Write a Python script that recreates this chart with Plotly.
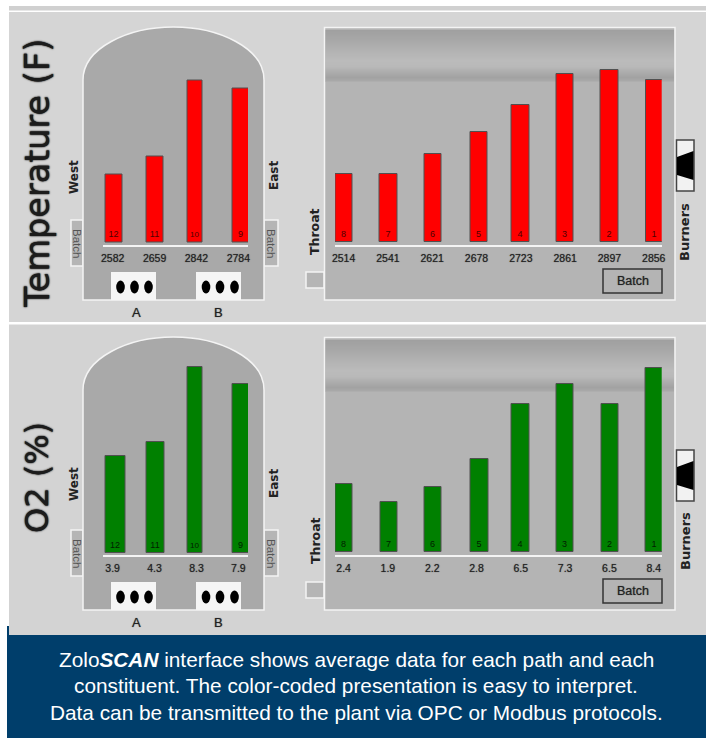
import plotly.graph_objects as go

# ---- data ----
west_burners = ["12", "11", "10", "9"]
side_burners = ["8", "7", "6", "5", "4", "3", "2", "1"]

temp_west_labels = ["2582", "2659", "2842", "2784"]
temp_west_levels = [68, 86, 162, 154]
temp_side_labels = ["2514", "2541", "2621", "2678", "2723", "2861", "2897", "2856"]
temp_side_levels = [68, 68, 88, 110, 137, 168, 172, 162]

o2_west_labels = ["3.9", "4.3", "8.3", "7.9"]
o2_west_levels = [97, 111, 186, 169]
o2_side_labels = ["2.4", "1.9", "2.2", "2.8", "6.5", "7.3", "6.5", "8.4"]
o2_side_levels = [68, 50, 65, 93, 148, 168, 148, 184]

caption_lines = [
    "Zolo<b><i>SCAN</i></b> interface shows average data for each path and each",
    "constituent. The color-coded presentation is easy to interpret.",
    "Data can be transmitted to the plant via OPC or Modbus protocols.",
]

W, H = 708, 738
RED, GREEN = "#ff0000", "#008000"
SANS = "Liberation Sans"
DEJA = "DejaVu Sans"
SOFT = "0 0 1px rgba(30,30,30,0.7)"
HEAVY = "0 0 1px #111111, 0 0 2px #222222"

px = lambda x: x / W
py = lambda y: 1 - y / H
shapes, notes = [], []


def rect(x0, y0, x1, y1, fill, line=None, lw=1.5):
    shapes.append(dict(type="rect", xref="paper", yref="paper", layer="below",
                       x0=px(x0), x1=px(x1), y0=py(y0), y1=py(y1), fillcolor=fill,
                       line=dict(color=line or fill, width=lw if line else 0)))


def poly(d, fill, line=None, lw=1.5):
    shapes.append(dict(type="path", xref="paper", yref="paper", layer="below", path=d,
                       fillcolor=fill, line=dict(color=line or fill, width=lw if line else 0)))


def P(x, y):
    return f"{px(x):.5f},{py(y):.5f}"


def ellipse(cx, cy, rx, ry, fill):
    shapes.append(dict(type="circle", xref="paper", yref="paper", layer="below",
                       x0=px(cx - rx), x1=px(cx + rx), y0=py(cy + ry), y1=py(cy - ry),
                       fillcolor=fill, line=dict(width=0)))


def note(x, y, text, size, font=DEJA, color="#222222", angle=0, shadow=None):
    f = dict(family=font, size=size, color=color)
    if shadow:
        f["shadow"] = shadow
    notes.append(dict(xref="paper", yref="paper", x=px(x), y=py(y), text=text, showarrow=False,
                      xanchor="center", yanchor="middle", textangle=angle, font=f))


# page furniture
rect(0, 0, W, H, "#ffffff")
rect(9, 6, 706, 10.5, "#d0d0d0")
rect(9, 12, 706, 322, "#d5d5d5")
rect(9, 324.5, 706, 636, "#d3d3d3")
rect(7, 626, 9, 636, "#003e6b")
rect(7, 635, 706, H, "#003e6b")

grad = [(0, 160), (10, 168), (20, 178), (30, 187), (36, 185), (42, 172), (47, 162), (50, 168), (52, 180)]
shade = []
for (a, ca), (b, cb) in zip(grad, grad[1:]):
    for k in range(a, b):
        v = round(ca + (cb - ca) * (k - a) / (b - a))
        shade.append((k, f"rgb({v},{v},{v})"))


def panel(dy, title, title_y, title_size):
    for x0, x1, tx in ((71, 83, 77), (264, 278, 271)):
        rect(x0, 220 + dy, x1, 266 + dy, "#b5b5b5", "#f4f4f4", 1.5)
        note(tx, 243 + dy, "Batch", 11.5, SANS, "#555555", 90)
    poly(f"M{P(83, 300 + dy)} L{P(83, 80 + dy)} C{P(83, 48 + dy)} {P(128, 27 + dy)} {P(173.5, 27 + dy)} "
         f"C{P(219, 27 + dy)} {P(264, 48 + dy)} {P(264, 80 + dy)} L{P(264, 300 + dy)} Z",
         "#a9a9a9", "#f4f4f4", 1.5)
    for bx, holes, lab, lx in ((111, (120.5, 134.5, 148.5), "A", 136), (196, (206, 220, 234.5), "B", 218)):
        rect(bx, 272 + dy, bx + 45, 300 + dy, "#f5f5f5")
        for hx in holes:
            ellipse(hx, 287 + dy, 4.3, 6.5, "#000000")
        note(lx, 312 + dy, lab, 13, SANS, shadow=SOFT)
    rect(306, 272 + dy, 324, 288 + dy, "#b5b5b5", "#f4f4f4", 1.5)
    rect(324.5, 27.5 + dy, 675, 300 + dy, "#b4b4b4", "#f4f4f4", 1.5)
    for k, c in shade:
        rect(325.5, 30 + dy + k, 674, 31 + dy + k, c)
    rect(603, 269 + dy, 662, 293 + dy, "#b4b4b4", "#333333", 1.5)
    note(633, 281 + dy, "Batch", 12.5, SANS, shadow=SOFT)
    rect(676.5, 140 + dy, 694, 191 + dy, "#f2f2f2", "#444444", 1.5)
    poly(f"M{P(677, 157 + dy)} L{P(693.5, 151 + dy)} L{P(693.5, 180 + dy)} L{P(677, 175 + dy)} Z", "#000000")
    note(37, title_y, title, title_size, DEJA, "#1c1c1c", -90, shadow=HEAVY)
    note(74, 177 + dy - (3 if dy else 0), "<b>West</b>", 12, angle=-90)
    note(274, 176 + dy - (2 if dy else 0), "<b>East</b>", 12, angle=-90)
    note(315, 232 + dy - (1 if dy else 0), "<b>Throat</b>", 12.5, angle=-90)
    note(685, 232 + dy - (1 if dy else 0), "<b>Burners</b>", 13, angle=-90)


panel(0, "Temperature (F)", 174, 33.5)
panel(310, "O2 (%)", 478, 32)

for i, line in enumerate(caption_lines):
    note(356, 659 + i * 26.5, line, 20.8, SANS, "#ffffff")

fig = go.Figure()
layout_axes = {}


def chart(n, cats, levels, labels, color, dark, x0, x1, xr, baseline, lift, top, lefts, widths):
    xn, yn = f"x{n}", f"y{n}"
    unit = (x1 - x0) / (xr[1] - xr[0])
    centres = [x0 + (i - xr[0]) * unit for i in range(len(cats))]
    fig.add_trace(go.Bar(
        x=cats, y=levels, xaxis=xn, yaxis=yn,
        width=[w / unit for w in widths],
        offset=[(l - c) / unit for l, c in zip(lefts, centres)],
        marker=dict(color=color, line=dict(color="#505050", width=1)),
        text=cats, textposition="inside", insidetextanchor="start", textangle=0,
        insidetextfont=dict(family=SANS, size=9, color=dark),
        hoverinfo="skip", showlegend=False, cliponaxis=False,
    ))
    layout_axes[f"xaxis{n}"] = dict(
        domain=[px(x0), px(x1)], anchor=yn, type="category", range=xr, showgrid=False, zeroline=False,
        showline=True, linecolor="#f4f4f4", linewidth=2, ticks="", tickmode="array", tickvals=cats,
        ticktext=labels, tickangle=0, ticklabelstandoff=2,
        tickfont=dict(family=SANS, size=10.5, color="#222222", shadow=SOFT),
        categoryorder="array", categoryarray=cats,
    )
    layout_axes[f"yaxis{n}"] = dict(
        domain=[py(baseline), py(baseline - lift - top)], anchor=xn, range=[-lift, top],
        visible=False, showgrid=False, zeroline=False,
    )


WL = [-0.23, 3.23]
SL = [-0.194, 7.18]
chart(1, west_burners, temp_west_levels, temp_west_labels, RED, "#500000", 103, 248, WL, 245, 3, 195,
      [105, 146, 187, 232], [17, 17, 15, 17])
chart(2, side_burners, temp_side_levels, temp_side_labels, RED, "#500000", 335, 661.7, SL, 245, 3.5, 195,
      [335, 379, 424, 470, 511, 556, 600, 645.5], [17, 18, 17, 17, 18, 17, 18, 17])
chart(3, west_burners, o2_west_levels, o2_west_labels, GREEN, "#002000", 103, 248, WL, 555, 2.5, 205,
      [105, 146, 187, 232], [20, 18, 15, 17])
chart(4, side_burners, o2_side_levels, o2_side_labels, GREEN, "#002000", 335, 661.7, SL, 555, 3.5, 205,
      [335, 380, 424, 470, 511, 556, 601, 645], [17, 17, 17, 18, 18, 17, 17, 18])

fig.update_layout(
    width=W, height=H, margin=dict(l=0, r=0, t=0, b=0, autoexpand=False), autosize=False,
    paper_bgcolor="#ffffff", plot_bgcolor="rgba(0,0,0,0)",
    shapes=shapes, annotations=notes, showlegend=False, **layout_axes,
)
fig.write_html("out.html", config=dict(displayModeBar=False),
               post_script="document.body.style.margin='0';document.body.style.overflow='hidden';")
